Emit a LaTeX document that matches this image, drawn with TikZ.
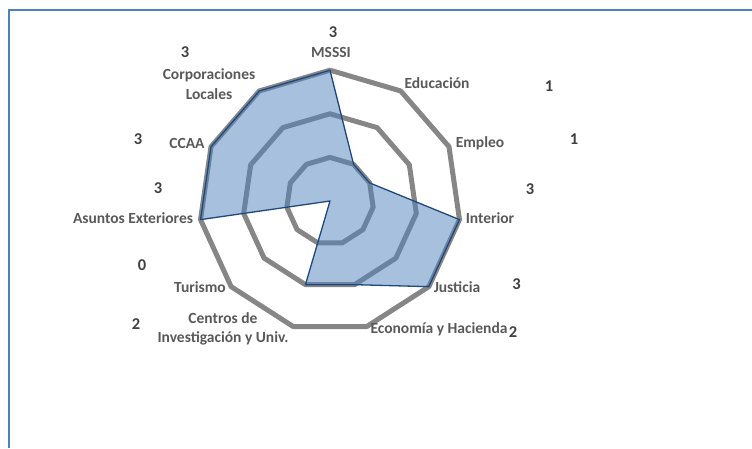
\documentclass[tikz,border=0pt]{standalone}
\usepackage{fontspec}
\setmainfont{Carlito}
\definecolor{ringgray}{RGB}{134,134,134}
\definecolor{serieblue}{RGB}{79,129,189}
\definecolor{serieline}{RGB}{31,73,125}
\definecolor{labelgray}{RGB}{89,89,89}
\definecolor{valuegray}{RGB}{64,64,64}

\begin{document}
\begin{tikzpicture}[x=1pt,y=-1pt,
    ring/.style={draw=ringgray, line width=5pt, line join=round},
    serie/.style={fill=serieblue, fill opacity=0.5, draw=serieline, draw opacity=1, line width=1.3pt, line join=round},
    lbl/.style={text=labelgray, font=\fontsize{15.5}{19.5}\selectfont\bfseries, align=center, inner sep=0pt},
    val/.style={text=valuegray, font=\fontsize{16.5}{19}\selectfont\bfseries, inner sep=0pt}]
        \useasboundingbox (0,0) rectangle (752,448);
        \draw[serieblue, line width=2pt] (8.5,448) -- (8.5,9.5) -- (752,9.5);
        \begin{scope}[shift={(330,201)}]
            \foreach \r in {1,2,3}
                \draw[ring] (-90:{\r*43.6}) \foreach \k in {1,...,10}{ -- ({-90+\k*360/11}:{\r*43.6})} -- cycle;
            \foreach \v [count=\k from 0] in {3,1,1,3,3,2,2,0,3,3,3}
                \coordinate (p\k) at ({-90+\k*360/11}:{\v*43.6});
            \draw[serie] (p0) -- (p1) -- (p2) -- (p3) -- (p4) -- (p5) -- (p6) -- (p7) -- (p8) -- (p9) -- (p10) -- cycle;
        \end{scope}
        % axis names
        \node[lbl] (msssi) at (331,52) {MSSSI};
        \node[lbl] (educ) at (437,83) {Educación};
        \node[lbl] (empleo) at (480,143) {Empleo};
        \node[lbl] (interior) at (490,218) {Interior};
        \node[lbl] (justicia) at (457,287) {Justicia};
        \node[lbl] (economia) at (439,329) {Economía y Hacienda};
        \node[lbl] (centros) at (223,329) {Centros de\\Investigación y Univ.};
        \node[lbl] (turismo) at (200,287) {Turismo};
        \node[lbl] (asuntos) at (133,218) {Asuntos Exteriores};
        \node[lbl] (ccaa) at (187,143) {CCAA};
        \node[lbl] (corpor) at (209,84) {Corporaciones\\Locales};
        % values
        \node[val] (v-msssi) at (333,32) {3};
        \node[val] (v-educ) at (549,86) {1};
        \node[val] (v-empleo) at (574,139) {1};
        \node[val] (v-interior) at (530,189) {3};
        \node[val] (v-justicia) at (516.5,284) {3};
        \node[val] (v-economia) at (513,332) {2};
        \node[val] (v-centros) at (136,324) {2};
        \node[val] (v-turismo) at (142,265) {0};
        \node[val] (v-asuntos) at (158,188) {3};
        \node[val] (v-ccaa) at (138,139) {3};
        \node[val] (v-corpor) at (185,52) {3};
    \end{tikzpicture}
\end{document}
